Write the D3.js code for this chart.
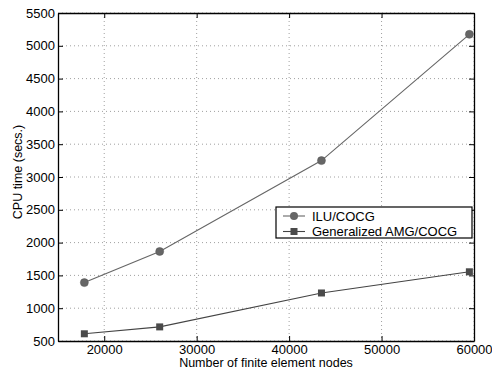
<!DOCTYPE html>
<html>
<head>
<meta charset="utf-8">
<script src="https://cdn.jsdelivr.net/npm/d3@7"></script>
<style>
  body { margin: 0; background: #fff; }
  text { font-family: "Liberation Sans", Arial, sans-serif; fill: #000; }
</style>
</head>
<body>
<div id="chart"></div>
<script>
// node counts and CPU times
var nodes = [17850, 26000, 43500, 59500];
var iluTimes = [1390, 1865, 3250, 5175];
var amgTimes = [610, 715, 1232, 1555];
var seriesNames = ["ILU/COCG", "Generalized AMG/COCG"];
var xTicks = [20000, 30000, 40000, 50000, 60000];
var yTicks = [500, 1000, 1500, 2000, 2500, 3000, 3500, 4000, 4500, 5000, 5500];

var margin = { top: 13, right: 18, bottom: 30, left: 58 },
    width = 492 - margin.left - margin.right,
    height = 371 - margin.top - margin.bottom;

var svg = d3.select("#chart")
    .append("svg")
    .attr("width", 492)
    .attr("height", 371)
    .append("g")
    .attr("transform", "translate(" + margin.left + "," + margin.top + ")");

var x = d3.scaleLinear().domain([15000, 60000]).range([0, width]);
var y = d3.scaleLinear().domain([500, 5500]).range([height, 0]);

// dotted grid
svg.selectAll(".vgrid")
    .data(xTicks)
    .enter()
    .append("line")
    .attr("x1", d => x(d)).attr("x2", d => x(d))
    .attr("y1", 0).attr("y2", height)
    .attr("stroke", "#888")
    .attr("stroke-width", 0.8)
    .attr("stroke-dasharray", "1,3");

svg.selectAll(".hgrid")
    .data(yTicks)
    .enter()
    .append("line")
    .attr("x1", 0).attr("x2", width)
    .attr("y1", d => y(d)).attr("y2", d => y(d))
    .attr("stroke", "#888")
    .attr("stroke-width", 0.8)
    .attr("stroke-dasharray", "1,3");

// axes, ticks pointing inward on all four sides
var fmt = d3.format("d");
svg.append("g")
    .attr("transform", "translate(0," + height + ")")
    .call(d3.axisBottom(x).tickValues(xTicks).tickSizeInner(-5).tickSizeOuter(0).tickPadding(4).tickFormat(fmt));
svg.append("g")
    .call(d3.axisTop(x).tickValues(xTicks).tickSizeInner(-5).tickSizeOuter(0).tickFormat(""));
svg.append("g")
    .call(d3.axisLeft(y).tickValues(yTicks).tickSizeInner(-5).tickSizeOuter(0).tickPadding(3).tickFormat(fmt));
svg.append("g")
    .attr("transform", "translate(" + width + ",0)")
    .call(d3.axisRight(y).tickValues(yTicks).tickSizeInner(-5).tickSizeOuter(0).tickFormat(""));

svg.selectAll(".domain").attr("stroke", "#000").attr("stroke-width", 1.3);
svg.selectAll(".tick line").attr("stroke", "#000");
svg.selectAll(".tick text")
    .style("font-size", "13px")
    .style("font-family", "'Liberation Sans', Arial, sans-serif");

// series
var iluData = nodes.map((n, i) => ({ x: n, y: iluTimes[i] }));
var amgData = nodes.map((n, i) => ({ x: n, y: amgTimes[i] }));

var line = d3.line().x(d => x(d.x)).y(d => y(d.y));

svg.append("path")
    .datum(iluData)
    .attr("d", line)
    .attr("fill", "none")
    .attr("stroke", "#666")
    .attr("stroke-width", 1.1);

svg.append("path")
    .datum(amgData)
    .attr("d", line)
    .attr("fill", "none")
    .attr("stroke", "#444")
    .attr("stroke-width", 1.1);

svg.selectAll(".iluPt")
    .data(iluData)
    .enter()
    .append("circle")
    .attr("cx", d => x(d.x))
    .attr("cy", d => y(d.y))
    .attr("r", 4)
    .attr("fill", "#666")
    .attr("stroke", "#555")
    .attr("stroke-width", 0.5);

svg.selectAll(".amgPt")
    .data(amgData)
    .enter()
    .append("rect")
    .attr("x", d => x(d.x) - 3.5)
    .attr("y", d => y(d.y) - 3.5)
    .attr("width", 7)
    .attr("height", 7)
    .attr("fill", "#4a4a4a");

// legend
var legend = svg.append("g").attr("transform", "translate(" + (276 - margin.left) + "," + (207 - margin.top) + ")");
legend.append("rect")
    .attr("width", 196)
    .attr("height", 31)
    .attr("fill", "#fff")
    .attr("stroke", "#000")
    .attr("stroke-width", 1.2);

seriesNames.forEach((name, i) => {
    var ly = 9 + i * 15.5;
    legend.append("line")
        .attr("x1", 7).attr("x2", 29)
        .attr("y1", ly).attr("y2", ly)
        .attr("stroke", i === 0 ? "#666" : "#444")
        .attr("stroke-width", 1.1);
    if (i === 0) {
        legend.append("circle").attr("cx", 18).attr("cy", ly).attr("r", 4).attr("fill", "#666");
    } else {
        legend.append("rect").attr("x", 14.5).attr("y", ly - 3.5).attr("width", 7).attr("height", 7).attr("fill", "#4a4a4a");
    }
    legend.append("text")
        .attr("x", 36)
        .attr("y", ly + 4.5)
        .style("font-size", "13px")
        .text(name);
});

// axis labels
svg.append("text")
    .attr("x", width / 2)
    .attr("y", height + 26)
    .attr("text-anchor", "middle")
    .style("font-size", "12.5px")
    .text("Number of finite element nodes");

svg.append("text")
    .attr("transform", "translate(" + (22 - margin.left) + "," + (172 - margin.top) + ")rotate(-90)")
    .attr("text-anchor", "middle")
    .style("font-size", "12.5px")
    .text("CPU time (secs.)");
</script>
</body>
</html>
